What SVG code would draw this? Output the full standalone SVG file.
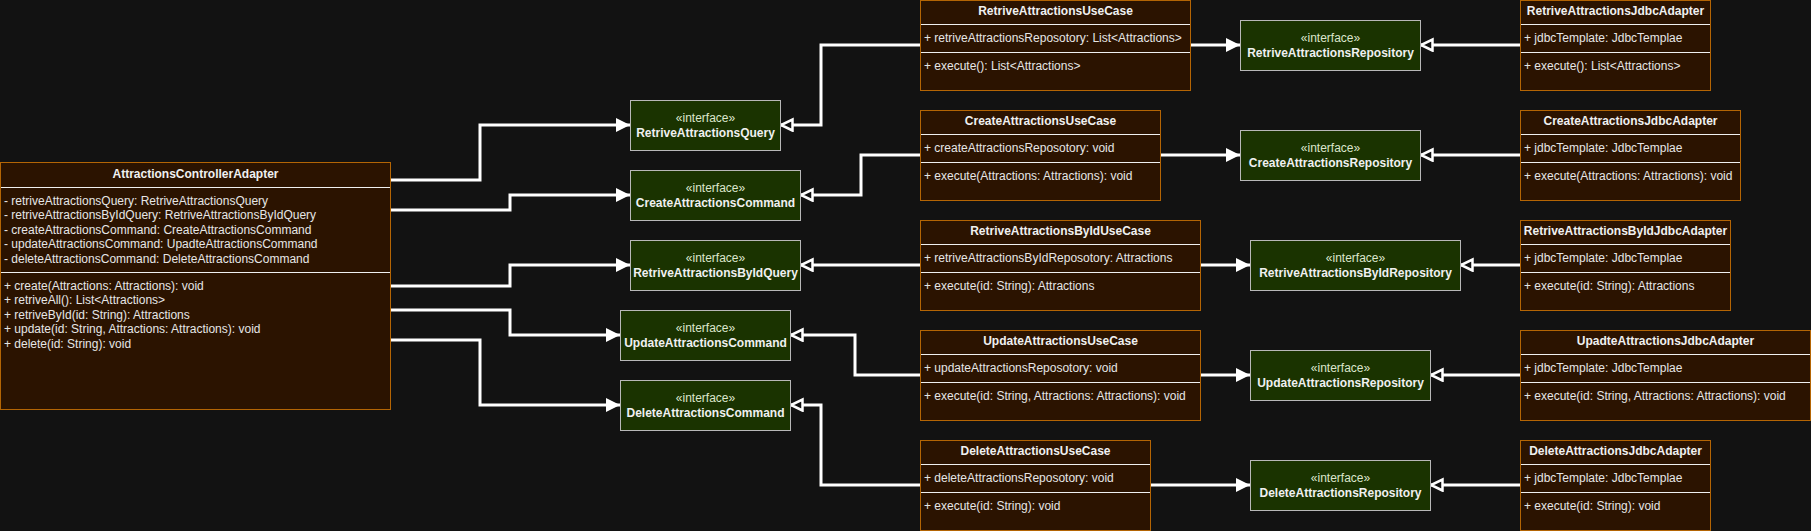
<svg xmlns="http://www.w3.org/2000/svg" width="1811" height="531" viewBox="0 0 1811 531">
<style>
.bg{fill:#121212}
.cls{fill:#2b1300;stroke:#b46504;stroke-width:1}
.div{stroke:#f0f0f0;stroke-width:1}
.itf{fill:#1a3300;stroke:#b8b8b8;stroke-width:1}
text{font-family:"Liberation Sans",Arial,Helvetica,sans-serif;font-size:12px}
.t{fill:#f0f0f0;font-weight:bold;text-anchor:middle}
.m{fill:#e6e6e6}
.st{fill:#dde6cc;text-anchor:middle}
.in{fill:#f0f0f0;font-weight:bold;text-anchor:middle}
.c{fill:none;stroke:#ffffff;stroke-width:3}
.f{marker-end:url(#block)}
.o{marker-end:url(#open)}
</style>
<defs>
<marker id="block" markerUnits="userSpaceOnUse" markerWidth="16" markerHeight="16" refX="14" refY="7" orient="auto">
<path d="M0,0 L14,7 L0,14 z" fill="#ffffff"/>
</marker>
<marker id="open" markerUnits="userSpaceOnUse" markerWidth="18" markerHeight="18" refX="14" refY="7" orient="auto">
<path d="M1.5,1.5 L13,7 L1.5,12.5 z" fill="#121212" stroke="#ffffff" stroke-width="2.5"/>
</marker>
</defs>
<rect class="bg" x="0" y="0" width="1811" height="531"/>

<g id="connectors">
<path class="c f" d="M391,180 H480 V125 H630"/>
<path class="c f" d="M391,210 H510 V195 H630"/>
<path class="c f" d="M391,286 H510 V265 H630"/>
<path class="c f" d="M391,310 H510 V335 H620"/>
<path class="c f" d="M391,340 H480 V405 H620"/>
<path class="c o" d="M920,45 H821 V125 H780"/>
<path class="c o" d="M920,155 H861 V195 H800"/>
<path class="c o" d="M920,265 H800"/>
<path class="c o" d="M920,375 H855 V335 H790"/>
<path class="c o" d="M920,485 H821 V405 H790"/>
<path class="c f" d="M1190,45 H1240"/>
<path class="c f" d="M1160,155 H1240"/>
<path class="c f" d="M1200,265 H1250"/>
<path class="c f" d="M1200,375 H1250"/>
<path class="c f" d="M1150,485 H1250"/>
<path class="c o" d="M1520,45 H1420"/>
<path class="c o" d="M1520,155 H1420"/>
<path class="c o" d="M1520,265 H1460"/>
<path class="c o" d="M1520,375 H1430"/>
<path class="c o" d="M1520,485 H1430"/>
</g>

<g id="AttractionsControllerAdapter">
<rect class="cls" x="0.5" y="162.5" width="390" height="247"/>
<line class="div" x1="1" y1="187.5" x2="390" y2="187.5"/>
<line class="div" x1="1" y1="272.5" x2="390" y2="272.5"/>
<text class="t" x="195.5" y="178">AttractionsControllerAdapter</text>
<text class="m" x="4" y="204.5">- retriveAttractionsQuery: RetriveAttractionsQuery</text>
<text class="m" x="4" y="219">- retriveAttractionsByIdQuery: RetriveAttractionsByIdQuery</text>
<text class="m" x="4" y="233.5">- createAttractionsCommand: CreateAttractionsCommand</text>
<text class="m" x="4" y="248">- updateAttractionsCommand: UpadteAttractionsCommand</text>
<text class="m" x="4" y="262.5">- deleteAttractionsCommand: DeleteAttractionsCommand</text>
<text class="m" x="4" y="289.5">+ create(Attractions: Attractions): void</text>
<text class="m" x="4" y="304">+ retriveAll(): List&lt;Attractions&gt;</text>
<text class="m" x="4" y="318.5">+ retriveById(id: String): Attractions</text>
<text class="m" x="4" y="333">+ update(id: String, Attractions: Attractions): void</text>
<text class="m" x="4" y="347.5">+ delete(id: String): void</text>
</g>

<g id="RetriveAttractionsQuery">
<rect class="itf" x="630.5" y="100.5" width="150" height="50"/>
<text class="st" x="705.5" y="121.5">«interface»</text>
<text class="in" x="705.5" y="136.5">RetriveAttractionsQuery</text>
</g>
<g id="CreateAttractionsCommand">
<rect class="itf" x="630.5" y="170.5" width="170" height="50"/>
<text class="st" x="715.5" y="191.5">«interface»</text>
<text class="in" x="715.5" y="206.5">CreateAttractionsCommand</text>
</g>
<g id="RetriveAttractionsByIdQuery">
<rect class="itf" x="630.5" y="240.5" width="170" height="50"/>
<text class="st" x="715.5" y="261.5">«interface»</text>
<text class="in" x="715.5" y="276.5">RetriveAttractionsByIdQuery</text>
</g>
<g id="UpdateAttractionsCommand">
<rect class="itf" x="620.5" y="310.5" width="170" height="50"/>
<text class="st" x="705.5" y="331.5">«interface»</text>
<text class="in" x="705.5" y="346.5">UpdateAttractionsCommand</text>
</g>
<g id="DeleteAttractionsCommand">
<rect class="itf" x="620.5" y="380.5" width="170" height="50"/>
<text class="st" x="705.5" y="401.5">«interface»</text>
<text class="in" x="705.5" y="416.5">DeleteAttractionsCommand</text>
</g>

<g id="RetriveAttractionsUseCase">
<rect class="cls" x="920.5" y="0.5" width="270" height="90"/>
<line class="div" x1="921" y1="24.5" x2="1190" y2="24.5"/>
<line class="div" x1="921" y1="52.5" x2="1190" y2="52.5"/>
<text class="t" x="1055.5" y="15">RetriveAttractionsUseCase</text>
<text class="m" x="924" y="41.5">+ retriveAttractionsReposotory: List&lt;Attractions&gt;</text>
<text class="m" x="924" y="69.5">+ execute(): List&lt;Attractions&gt;</text>
</g>
<g id="CreateAttractionsUseCase">
<rect class="cls" x="920.5" y="110.5" width="240" height="90"/>
<line class="div" x1="921" y1="134.5" x2="1160" y2="134.5"/>
<line class="div" x1="921" y1="162.5" x2="1160" y2="162.5"/>
<text class="t" x="1040.5" y="125">CreateAttractionsUseCase</text>
<text class="m" x="924" y="151.5">+ createAttractionsReposotory: void</text>
<text class="m" x="924" y="179.5">+ execute(Attractions: Attractions): void</text>
</g>
<g id="RetriveAttractionsByIdUseCase">
<rect class="cls" x="920.5" y="220.5" width="280" height="90"/>
<line class="div" x1="921" y1="244.5" x2="1200" y2="244.5"/>
<line class="div" x1="921" y1="272.5" x2="1200" y2="272.5"/>
<text class="t" x="1060.5" y="235">RetriveAttractionsByIdUseCase</text>
<text class="m" x="924" y="261.5">+ retriveAttractionsByIdReposotory: Attractions</text>
<text class="m" x="924" y="289.5">+ execute(id: String): Attractions</text>
</g>
<g id="UpdateAttractionsUseCase">
<rect class="cls" x="920.5" y="330.5" width="280" height="90"/>
<line class="div" x1="921" y1="354.5" x2="1200" y2="354.5"/>
<line class="div" x1="921" y1="382.5" x2="1200" y2="382.5"/>
<text class="t" x="1060.5" y="345">UpdateAttractionsUseCase</text>
<text class="m" x="924" y="371.5">+ updateAttractionsReposotory: void</text>
<text class="m" x="924" y="399.5">+ execute(id: String, Attractions: Attractions): void</text>
</g>
<g id="DeleteAttractionsUseCase">
<rect class="cls" x="920.5" y="440.5" width="230" height="90"/>
<line class="div" x1="921" y1="464.5" x2="1150" y2="464.5"/>
<line class="div" x1="921" y1="492.5" x2="1150" y2="492.5"/>
<text class="t" x="1035.5" y="455">DeleteAttractionsUseCase</text>
<text class="m" x="924" y="481.5">+ deleteAttractionsReposotory: void</text>
<text class="m" x="924" y="509.5">+ execute(id: String): void</text>
</g>

<g id="RetriveAttractionsRepository">
<rect class="itf" x="1240.5" y="20.5" width="180" height="50"/>
<text class="st" x="1330.5" y="41.5">«interface»</text>
<text class="in" x="1330.5" y="56.5">RetriveAttractionsRepository</text>
</g>
<g id="CreateAttractionsRepository">
<rect class="itf" x="1240.5" y="130.5" width="180" height="50"/>
<text class="st" x="1330.5" y="151.5">«interface»</text>
<text class="in" x="1330.5" y="166.5">CreateAttractionsRepository</text>
</g>
<g id="RetriveAttractionsByIdRepository">
<rect class="itf" x="1250.5" y="240.5" width="210" height="50"/>
<text class="st" x="1355.5" y="261.5">«interface»</text>
<text class="in" x="1355.5" y="276.5">RetriveAttractionsByIdRepository</text>
</g>
<g id="UpdateAttractionsRepository">
<rect class="itf" x="1250.5" y="350.5" width="180" height="50"/>
<text class="st" x="1340.5" y="371.5">«interface»</text>
<text class="in" x="1340.5" y="386.5">UpdateAttractionsRepository</text>
</g>
<g id="DeleteAttractionsRepository">
<rect class="itf" x="1250.5" y="460.5" width="180" height="50"/>
<text class="st" x="1340.5" y="481.5">«interface»</text>
<text class="in" x="1340.5" y="496.5">DeleteAttractionsRepository</text>
</g>

<g id="RetriveAttractionsJdbcAdapter">
<rect class="cls" x="1520.5" y="0.5" width="190" height="90"/>
<line class="div" x1="1521" y1="24.5" x2="1710" y2="24.5"/>
<line class="div" x1="1521" y1="52.5" x2="1710" y2="52.5"/>
<text class="t" x="1615.5" y="15">RetriveAttractionsJdbcAdapter</text>
<text class="m" x="1524" y="41.5">+ jdbcTemplate: JdbcTemplae</text>
<text class="m" x="1524" y="69.5">+ execute(): List&lt;Attractions&gt;</text>
</g>
<g id="CreateAttractionsJdbcAdapter">
<rect class="cls" x="1520.5" y="110.5" width="220" height="90"/>
<line class="div" x1="1521" y1="134.5" x2="1740" y2="134.5"/>
<line class="div" x1="1521" y1="162.5" x2="1740" y2="162.5"/>
<text class="t" x="1630.5" y="125">CreateAttractionsJdbcAdapter</text>
<text class="m" x="1524" y="151.5">+ jdbcTemplate: JdbcTemplae</text>
<text class="m" x="1524" y="179.5">+ execute(Attractions: Attractions): void</text>
</g>
<g id="RetriveAttractionsByIdJdbcAdapter">
<rect class="cls" x="1520.5" y="220.5" width="210" height="90"/>
<line class="div" x1="1521" y1="244.5" x2="1730" y2="244.5"/>
<line class="div" x1="1521" y1="272.5" x2="1730" y2="272.5"/>
<text class="t" x="1625.5" y="235">RetriveAttractionsByIdJdbcAdapter</text>
<text class="m" x="1524" y="261.5">+ jdbcTemplate: JdbcTemplae</text>
<text class="m" x="1524" y="289.5">+ execute(id: String): Attractions</text>
</g>
<g id="UpadteAttractionsJdbcAdapter">
<rect class="cls" x="1520.5" y="330.5" width="290" height="90"/>
<line class="div" x1="1521" y1="354.5" x2="1810" y2="354.5"/>
<line class="div" x1="1521" y1="382.5" x2="1810" y2="382.5"/>
<text class="t" x="1665.5" y="345">UpadteAttractionsJdbcAdapter</text>
<text class="m" x="1524" y="371.5">+ jdbcTemplate: JdbcTemplae</text>
<text class="m" x="1524" y="399.5">+ execute(id: String, Attractions: Attractions): void</text>
</g>
<g id="DeleteAttractionsJdbcAdapter">
<rect class="cls" x="1520.5" y="440.5" width="190" height="90"/>
<line class="div" x1="1521" y1="464.5" x2="1710" y2="464.5"/>
<line class="div" x1="1521" y1="492.5" x2="1710" y2="492.5"/>
<text class="t" x="1615.5" y="455">DeleteAttractionsJdbcAdapter</text>
<text class="m" x="1524" y="481.5">+ jdbcTemplate: JdbcTemplae</text>
<text class="m" x="1524" y="509.5">+ execute(id: String): void</text>
</g>
</svg>
